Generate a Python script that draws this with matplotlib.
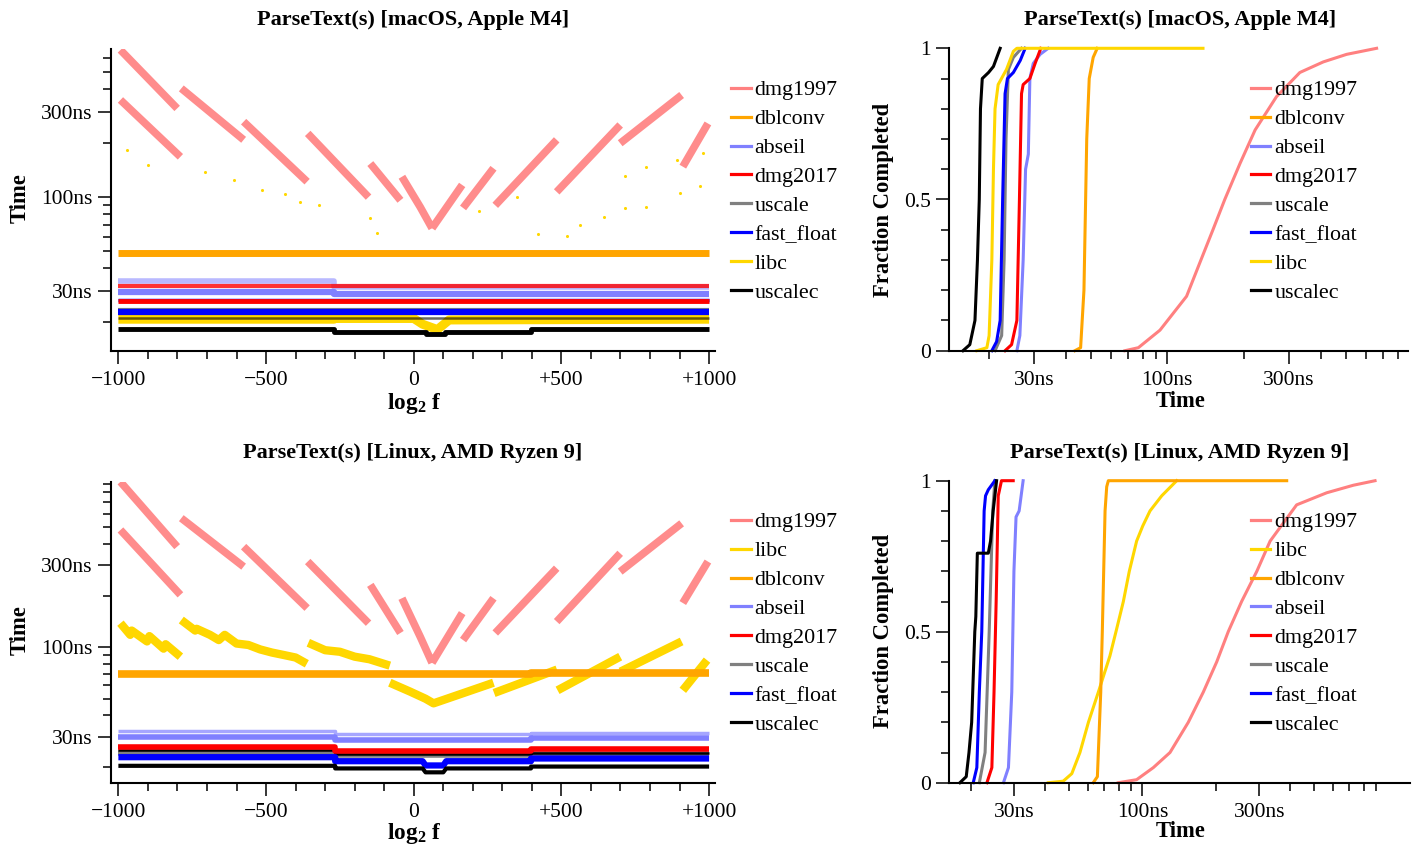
import numpy as np
import matplotlib
matplotlib.use('Agg')
import matplotlib.pyplot as plt
from matplotlib.lines import Line2D
from matplotlib.ticker import FixedLocator, FixedFormatter, NullFormatter

plt.rcParams['font.family'] = ['Liberation Serif', 'DejaVu Serif']
plt.rcParams['mathtext.fontset'] = 'custom'
plt.rcParams['mathtext.rm'] = 'Liberation Serif'
plt.rcParams['mathtext.bf'] = 'Liberation Serif:bold'
plt.rcParams['mathtext.it'] = 'Liberation Serif:italic'

W, H = 1416, 846
N = np.nan

COLORS = {
    'dmg1997': '#ff8080', 'dblconv': '#ffa500', 'abseil': '#8080ff',
    'dmg2017': '#ff0000', 'uscale': '#808080', 'fast_float': '#0000ff',
    'libc': '#ffd700', 'uscalec': '#000000',
}
mac_order = ['dmg1997', 'dblconv', 'abseil', 'dmg2017', 'uscale', 'fast_float', 'libc', 'uscalec']
linux_order = ['dmg1997', 'libc', 'dblconv', 'abseil', 'dmg2017', 'uscale', 'fast_float', 'uscalec']

# ---------------- macOS scatter (log2 f vs time, ns) ----------------
mac_dmg1997_x = [-993, -801, N, -787, -576, N, -576, -361, N, -359, -153, N, -147, -45, N,
                 -40, 22, 62, N, 62, 164, N, 167, 270, N, 276, 484, N, 484, 699, N,
                 699, 907, N, 911, 996, N, -993, -790]
mac_dmg1997_t = [664, 313, N, 405, 209, N, 264, 122, N, 227, 100, N, 154, 96, N,
                 130, 88, 67, N, 67, 117, N, 87, 145, N, 90, 209, N, 107, 253, N,
                 200, 372, N, 148, 258, N, 349, 168]
mac_dblconv_x = [-1000, 1000]
mac_dblconv_t = [48.5, 48.5]
mac_abseil_hi_x = [-1000, -270, -270, 1000]
mac_abseil_hi_t = [34.0, 34.0, 31.5, 31.5]
mac_abseil_x = [-1000, -270, -270, 1000]
mac_abseil_t = [29.6, 29.6, 28.8, 28.8]
mac_dmg2017_hi_x = [-1000, 1000]
mac_dmg2017_hi_t = [31.7, 31.7]
mac_dmg2017_x = [-1000, 1000]
mac_dmg2017_t = [26.4, 26.4]
mac_uscale_x = [-1000, 1000]
mac_uscale_t = [23.3, 23.3]
mac_fastfloat_hi_x = [-1000, 1000]
mac_fastfloat_hi_t = [26.6, 26.6]
mac_fastfloat_x = [-1000, 1000]
mac_fastfloat_t = [22.9, 22.9]
mac_libc_x = [-1000, -270, -270, 0, 30, 80, 120, 1000]
mac_libc_t = [20.8, 20.8, 21.0, 21.0, 19.5, 18.2, 20.6, 20.8]
mac_libc_out_x = [-970, -900, -706, -610, -514, -435, -384, -322, -147, -125, 220, 350, 422,
                  518, 564, 643, 716, 716, 787, 787, 891, 902, 970, 981]
mac_libc_out_t = [183, 151, 139, 124, 109, 104, 94, 90, 76, 63, 84, 100, 62,
                  61, 70, 77, 131, 87, 148, 88, 161, 105, 116, 176]
mac_uscalec_hi_x = [-1000, 1000]
mac_uscalec_hi_t = [21.2, 21.2]
mac_uscalec_x = [-1000, -270, -270, 40, 40, 106, 106, 397, 397, 1000]
mac_uscalec_t = [18.3, 18.3, 17.7, 17.7, 17.2, 17.2, 17.7, 17.7, 18.3, 18.3]

# ---------------- Linux scatter ----------------
lin_dmg1997_x = [-993, -801, N, -787, -576, N, -576, -361, N, -359, -153, N, -147, -45, N,
                 -40, 22, 62, N, 62, 164, N, 167, 270, N, 276, 484, N, 484, 699, N,
                 699, 907, N, 911, 996, N, -993, -790]
lin_dmg1997_t = [922, 386, N, 566, 295, N, 386, 169, N, 316, 138, N, 231, 121, N,
                 193, 115, 81, N, 81, 158, N, 110, 193, N, 121, 289, N, 141, 353, N,
                 276, 528, N, 181, 316, N, 483, 202]
lin_libc_x = [-993, -960, -955, -903, -895, -847, -840, -790, N,
              -787, -740, -735, -690, -660, -640, -600, -560, -520, -480, -440, -400, -362, N,
              -357, -300, -250, -200, -150, -81, N,
              -81, -12, 40, 67, 270, N, 272, 485, N, 487, 699, N, 700, 907, N, 911, 993]
lin_libc_t = [138, 118, 125, 108, 116, 98, 104, 88, N,
              144, 125, 128, 118, 110, 118, 105, 103, 97, 93, 90, 87, 80, N,
              106, 96, 94, 88, 85, 78, N,
              62, 55, 50, 47, 62, N, 54, 74, N, 56, 88, N, 72, 108, N, 56, 84]
lin_dblconv_x = [-1000, 397, 397, 1000]
lin_dblconv_t = [69.8, 69.8, 71.0, 71.0]
lin_x = [-1000, -266, -266, 397, 397, 1000]
lin_abseil_hi_t = [32.2, 32.2, 31.2, 31.2, 31.7, 31.7]
lin_abseil_t = [30.1, 30.1, 28.8, 28.8, 29.7, 29.7]
lin_dmg2017_t = [26.1, 26.1, 24.9, 24.9, 25.6, 25.6]
lin_uscale_t = [24.0, 24.0, 23.4, 23.4, 23.8, 23.8]
lin_uscalec_hi_t = [25.0, 25.0, 23.7, 23.7, 24.2, 24.2]
lin_dip_x = [-1000, -266, -266, 30, 40, 100, 110, 397, 397, 1000]
lin_fastfloat_t = [22.8, 22.8, 21.6, 21.6, 20.4, 20.4, 21.6, 21.6, 22.4, 22.4]
lin_uscalec_t = [20.3, 20.3, 19.6, 19.6, 18.6, 18.6, 19.6, 19.6, 20.1, 20.1]

# ---------------- ECDFs (time ns, fraction) ----------------
mac_cdf = {
    'uscalec': ([15.8, 16.8, 17.6, 18.0, 18.3, 18.5, 18.8, 19.9, 20.8, 22.1],
                [0, 0.02, 0.1, 0.3, 0.5, 0.8, 0.9, 0.92, 0.94, 1.0]),
    'libc': ([17.9, 19.6, 20.0, 20.5, 20.8, 21.1, 21.7, 23.4, 24.9, 25.7, 138],
             [0, 0.01, 0.05, 0.3, 0.6, 0.8, 0.88, 0.93, 0.99, 1.0, 1.0]),
    'fast_float': ([20.5, 21.4, 22.1, 22.6, 23.1, 23.6, 24.9, 26.5, 27.7],
                   [0, 0.03, 0.1, 0.5, 0.85, 0.9, 0.92, 0.96, 1.0]),
    'uscale': ([21.1, 22.4, 22.9, 23.3, 23.8, 24.9, 26.8],
               [0, 0.05, 0.3, 0.7, 0.93, 0.97, 1.0]),
    'dmg2017': ([23.1, 24.5, 25.7, 26.3, 26.8, 27.2, 28.9, 30.3, 31.9],
                [0, 0.02, 0.1, 0.5, 0.85, 0.88, 0.9, 0.95, 1.0]),
    'abseil': ([25.7, 26.4, 27.2, 27.8, 28.5, 28.9, 29.8, 31.7, 34.1],
               [0, 0.05, 0.3, 0.6, 0.65, 0.9, 0.95, 0.98, 1.0]),
    'dblconv': ([43.4, 45.7, 47.1, 48.3, 49.4, 51.2, 53.1],
                [0, 0.01, 0.2, 0.7, 0.9, 0.97, 1.0]),
    'dmg1997': ([68.2, 77.0, 93.6, 119, 134, 151, 168, 193, 221, 268, 331, 409, 505, 662],
                [0, 0.01, 0.068, 0.18, 0.29, 0.40, 0.5, 0.62, 0.73, 0.84, 0.92, 0.955, 0.98, 1.0]),
}
lin_cdf = {
    'uscalec': ([18.0, 19.1, 19.6, 20.1, 20.6, 20.7, 20.9, 21.2, 23.5, 24.0, 24.6, 25.0, 25.4],
                [0, 0.02, 0.1, 0.2, 0.45, 0.5, 0.55, 0.76, 0.76, 0.8, 0.9, 0.95, 1.0]),
    'fast_float': ([20.4, 21.1, 21.6, 22.1, 22.6, 22.9, 23.5, 25.0],
                   [0, 0.05, 0.3, 0.5, 0.9, 0.95, 0.97, 1.0]),
    'uscale': ([21.6, 22.8, 23.7, 24.5, 25.0],
               [0, 0.1, 0.5, 0.9, 1.0]),
    'dmg2017': ([23.2, 24.3, 24.8, 25.3, 25.8, 26.6, 29.7],
                [0, 0.05, 0.3, 0.6, 0.95, 1.0, 1.0]),
    'abseil': ([27.1, 28.4, 29.3, 29.9, 30.5, 31.4, 32.6],
               [0, 0.05, 0.3, 0.7, 0.88, 0.9, 1.0]),
    'libc': ([41.3, 47.5, 51.5, 55.6, 60.2, 66.1, 73.7, 78.0, 83.6, 88.4, 94.7, 100.3, 107.4, 119.9, 138],
             [0, 0.005, 0.03, 0.1, 0.2, 0.3, 0.42, 0.5, 0.6, 0.7, 0.8, 0.85, 0.9, 0.95, 1.0]),
    'dblconv': ([63.0, 65.5, 67.6, 68.6, 70.4, 71.5, 72.6, 388],
                [0, 0.02, 0.3, 0.5, 0.9, 0.98, 1.0, 1.0]),
    'dmg1997': ([79.7, 94.7, 110.8, 129.6, 153.9, 177.2, 201, 224, 254, 293, 332, 426, 565, 726, 890],
                [0, 0.01, 0.05, 0.1, 0.2, 0.3, 0.4, 0.5, 0.6, 0.7, 0.8, 0.92, 0.96, 0.985, 1.0]),
}

x_major = [-1000, -500, 0, 500, 1000]
x_major_labels = ['\u22121000', '\u2212500', '0', '+500', '+1000']
t_major = [30, 100, 300]
t_major_labels = ['30ns', '100ns', '300ns']
t_minor = [20, 40, 50, 60, 70, 80, 90, 200, 400, 500, 600, 700, 800, 900, 2000]

TICK_FS = 15.5
LEG_FS = 15.8
LAB_FS = 16.3

fig = plt.figure(figsize=(W / 100, H / 100), dpi=100)


def ax_at(l, t, r, b):
    return fig.add_axes([l / W, 1 - b / H, (r - l) / W, (b - t) / H])


def style(ax):
    for s in ['top', 'right']:
        ax.spines[s].set_visible(False)
    for s in ['left', 'bottom']:
        ax.spines[s].set_linewidth(1.5)
    ax.tick_params(which='major', direction='out', length=9.4, width=1.1, labelsize=TICK_FS, pad=4)
    ax.tick_params(which='minor', direction='out', length=5.8, width=1.1)
    ax.tick_params(axis='x', pad=5)


def time_axis(axis):
    axis.set_major_locator(FixedLocator(t_major))
    axis.set_major_formatter(FixedFormatter(t_major_labels))
    axis.set_minor_locator(FixedLocator(t_minor))
    axis.set_minor_formatter(NullFormatter())


def legend(ax, order, xp, yp):
    hs = [Line2D([], [], color=COLORS[n], lw=2.3) for n in order]
    ax.legend(hs, order, loc='upper left', bbox_to_anchor=(xp / W, 1 - yp / H),
              bbox_transform=fig.transFigure, frameon=False, fontsize=LEG_FS,
              handlelength=0.9, handletextpad=0.18, labelspacing=0.39,
              borderpad=0, borderaxespad=0)


def band(ax, x, t, name, lw=3.0, alpha=1.0):
    ax.plot(x, t, color=COLORS[name], lw=lw, alpha=alpha, solid_capstyle='butt')


def scatter_axes(ax, ylim):
    style(ax)
    ax.set_yscale('log')
    ax.set_xlim(-1025, 1020)
    ax.set_ylim(*ylim)
    ax.xaxis.set_major_locator(FixedLocator(x_major))
    ax.xaxis.set_major_formatter(FixedFormatter(x_major_labels))
    ax.xaxis.set_minor_locator(FixedLocator(list(range(-900, 1000, 100))))
    time_axis(ax.yaxis)


def cdf_axes(ax, xlim, data, order):
    style(ax)
    ax.set_xscale('log')
    ax.set_xlim(*xlim)
    ax.set_ylim(0, 1)
    time_axis(ax.xaxis)
    ax.yaxis.set_major_locator(FixedLocator([0, 0.5, 1]))
    ax.yaxis.set_major_formatter(FixedFormatter(['0', '0.5', '1']))
    ax.yaxis.set_minor_locator(FixedLocator([0.1, 0.2, 0.3, 0.4, 0.6, 0.7, 0.8, 0.9]))
    for name in order:
        t, f = data[name]
        ax.plot(t, f, color=COLORS[name], lw=2.2, clip_on=False)


# ---- top-left: macOS scatter ----
ax1 = ax_at(111, 49.3, 715, 350.7)
scatter_axes(ax1, (13.87, 669.7))
band(ax1, mac_dmg1997_x, mac_dmg1997_t, 'dmg1997', lw=5.5, alpha=0.9)
ax1.scatter(mac_libc_out_x, mac_libc_out_t, s=5, color=COLORS['libc'], lw=0)
band(ax1, mac_dblconv_x, mac_dblconv_t, 'dblconv', lw=5.0)
band(ax1, mac_abseil_hi_x, mac_abseil_hi_t, 'abseil', lw=4.0, alpha=0.55)
band(ax1, mac_abseil_x, mac_abseil_t, 'abseil', lw=4.5)
band(ax1, mac_uscale_x, mac_uscale_t, 'uscale', lw=3.0)
band(ax1, mac_libc_x, mac_libc_t, 'libc', lw=6.5)
band(ax1, mac_fastfloat_hi_x, mac_fastfloat_hi_t, 'fast_float', lw=2.5)
band(ax1, mac_fastfloat_x, mac_fastfloat_t, 'fast_float', lw=4.5)
band(ax1, mac_dmg2017_hi_x, mac_dmg2017_hi_t, 'dmg2017', lw=3.0, alpha=0.8)
band(ax1, mac_dmg2017_x, mac_dmg2017_t, 'dmg2017', lw=3.5)
band(ax1, mac_uscalec_hi_x, mac_uscalec_hi_t, 'uscalec', lw=1.8, alpha=0.6)
band(ax1, mac_uscalec_x, mac_uscalec_t, 'uscalec', lw=3.5)
legend(ax1, mac_order, 731, 80.0)

# ---- top-right: macOS CDF ----
ax2 = ax_at(949.3, 48.3, 1408, 350.7)
cdf_axes(ax2, (13.96, 879), mac_cdf, ['dmg1997', 'dblconv', 'abseil', 'dmg2017', 'uscale', 'fast_float', 'libc', 'uscalec'])
legend(ax2, mac_order, 1250.7, 80.0)

# ---- bottom-left: Linux scatter ----
ax3 = ax_at(111, 481.7, 715, 782.7)
scatter_axes(ax3, (16.18, 923.9))
band(ax3, lin_dmg1997_x, lin_dmg1997_t, 'dmg1997', lw=5.5, alpha=0.9)
band(ax3, lin_libc_x, lin_libc_t, 'libc', lw=6.0)
band(ax3, lin_dblconv_x, lin_dblconv_t, 'dblconv', lw=5.5)
band(ax3, lin_x, lin_abseil_hi_t, 'abseil', lw=2.5, alpha=0.7)
band(ax3, lin_x, lin_abseil_t, 'abseil', lw=4.0)
band(ax3, lin_x, lin_uscale_t, 'uscale', lw=4.0)
band(ax3, lin_x, lin_uscalec_hi_t, 'uscalec', lw=1.8)
band(ax3, lin_x, lin_dmg2017_t, 'dmg2017', lw=4.0)
band(ax3, lin_dip_x, lin_fastfloat_t, 'fast_float', lw=4.5)
band(ax3, lin_dip_x, lin_uscalec_t, 'uscalec', lw=3.0)
legend(ax3, linux_order, 731, 512)

# ---- bottom-right: Linux CDF ----
ax4 = ax_at(949.3, 480.7, 1410, 782.7)
cdf_axes(ax4, (16.29, 1236), lin_cdf, ['dmg1997', 'libc', 'dblconv', 'abseil', 'dmg2017', 'uscale', 'fast_float', 'uscalec'])
legend(ax4, linux_order, 1250.7, 512)

# ---- titles and labels ----
def ftext(x, y, s, **kw):
    fig.text(x / W, 1 - y / H, s, ha='center', va='center', **kw)

ftext(413, 20, 'ParseText(s) [macOS, Apple M4]', fontsize=16, fontweight='bold')
ftext(1180, 20, 'ParseText(s) [macOS, Apple M4]', fontsize=16, fontweight='bold')
ftext(413, 453, 'ParseText(s) [Linux, AMD Ryzen 9]', fontsize=16, fontweight='bold')
ftext(1180, 453, 'ParseText(s) [Linux, AMD Ryzen 9]', fontsize=16, fontweight='bold')
ftext(20, 198, 'Time', fontsize=LAB_FS, fontweight='bold', rotation=90)
ftext(20, 630, 'Time', fontsize=LAB_FS, fontweight='bold', rotation=90)
ftext(414, 403, r'log$_\mathbf{2}$ f', fontsize=16.8, fontweight='bold')
ftext(414, 833, r'log$_\mathbf{2}$ f', fontsize=16.8, fontweight='bold')
ftext(1181, 401, 'Time', fontsize=LAB_FS, fontweight='bold')
ftext(1181, 831, 'Time', fontsize=LAB_FS, fontweight='bold')
ftext(883, 200, 'Fraction Completed', fontsize=LAB_FS, fontweight='bold', rotation=90)
ftext(883, 631, 'Fraction Completed', fontsize=LAB_FS, fontweight='bold', rotation=90)

fig.savefig('out.png', dpi=100)
